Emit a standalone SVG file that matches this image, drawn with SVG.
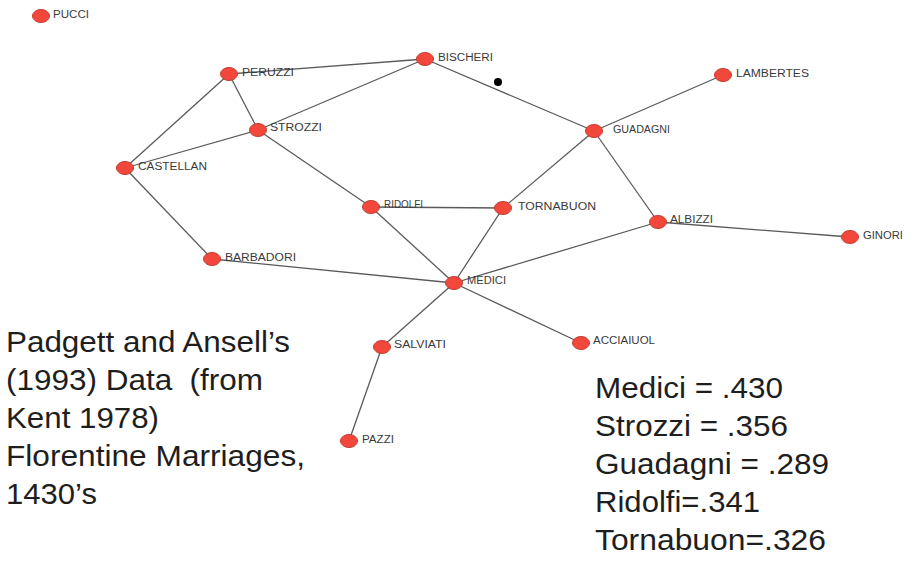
<svg xmlns="http://www.w3.org/2000/svg" width="916" height="563" viewBox="0 0 916 563">
<style>
.n ellipse{fill:#f2473b;stroke:#c23a2e;stroke-width:1}
.n text{font-family:"Liberation Sans",Arial,sans-serif;font-size:10px;fill:#3a3a3a}
.e line{stroke:#5a5a5a;stroke-width:1.3}
.big{font-family:"Liberation Sans",Arial,sans-serif;font-size:29px;fill:#1e1e1e}
</style>
<rect width="916" height="563" fill="#ffffff"/>
<g id="connectors" class="e">
<line x1="229" y1="74" x2="425" y2="59"/>
<line x1="229" y1="74" x2="258" y2="130"/>
<line x1="229" y1="74" x2="125" y2="168"/>
<line x1="425" y1="59" x2="258" y2="130"/>
<line x1="425" y1="59" x2="594" y2="131"/>
<line x1="258" y1="130" x2="125" y2="168"/>
<line x1="258" y1="130" x2="371" y2="207"/>
<line x1="125" y1="168" x2="212" y2="259"/>
<line x1="212" y1="259" x2="454" y2="283"/>
<line x1="371" y1="207" x2="503" y2="208"/>
<line x1="371" y1="207" x2="454" y2="283"/>
<line x1="503" y1="208" x2="594" y2="131"/>
<line x1="503" y1="208" x2="454" y2="283"/>
<line x1="594" y1="131" x2="723" y2="75"/>
<line x1="594" y1="131" x2="658" y2="222"/>
<line x1="658" y1="222" x2="850" y2="237"/>
<line x1="658" y1="222" x2="454" y2="283"/>
<line x1="454" y1="283" x2="382" y2="347"/>
<line x1="454" y1="283" x2="581" y2="343"/>
<line x1="382" y1="347" x2="349" y2="441"/>
</g>
<circle cx="498" cy="82" r="4" fill="#000"/>
<g id="pucci" class="n"><ellipse cx="41" cy="16" rx="8.5" ry="6.5"/><text x="53" y="18" textLength="36" lengthAdjust="spacingAndGlyphs">PUCCI</text></g>
<g id="peruzzi" class="n"><ellipse cx="229" cy="74" rx="8.5" ry="6.5"/><text x="242" y="76" textLength="52" lengthAdjust="spacingAndGlyphs">PERUZZI</text></g>
<g id="bischeri" class="n"><ellipse cx="425" cy="59" rx="8.5" ry="6.5"/><text x="438" y="61" textLength="55" lengthAdjust="spacingAndGlyphs">BISCHERI</text></g>
<g id="strozzi" class="n"><ellipse cx="258" cy="130" rx="8.5" ry="6.5"/><text x="270" y="131" textLength="52" lengthAdjust="spacingAndGlyphs">STROZZI</text></g>
<g id="castellan" class="n"><ellipse cx="125" cy="168" rx="8.5" ry="6.5"/><text x="138" y="170" textLength="69" lengthAdjust="spacingAndGlyphs">CASTELLAN</text></g>
<g id="guadagni" class="n"><ellipse cx="594" cy="131" rx="8.5" ry="6.5"/><text x="613" y="133" textLength="57" lengthAdjust="spacingAndGlyphs">GUADAGNI</text></g>
<g id="lambertes" class="n"><ellipse cx="723" cy="75" rx="8.5" ry="6.5"/><text x="736" y="77" textLength="73" lengthAdjust="spacingAndGlyphs">LAMBERTES</text></g>
<g id="ridolfi" class="n"><ellipse cx="371" cy="207" rx="8.5" ry="6.5"/><text x="384" y="208" textLength="39" lengthAdjust="spacingAndGlyphs">RIDOLFI</text></g>
<g id="tornabuon" class="n"><ellipse cx="503" cy="208" rx="8.5" ry="6.5"/><text x="518" y="210" textLength="78" lengthAdjust="spacingAndGlyphs">TORNABUON</text></g>
<g id="albizzi" class="n"><ellipse cx="658" cy="222" rx="8.5" ry="6.5"/><text x="670" y="223" textLength="43" lengthAdjust="spacingAndGlyphs">ALBIZZI</text></g>
<g id="ginori" class="n"><ellipse cx="850" cy="237" rx="8.5" ry="6.5"/><text x="863" y="239" textLength="40" lengthAdjust="spacingAndGlyphs">GINORI</text></g>
<g id="barbadori" class="n"><ellipse cx="212" cy="259" rx="8.5" ry="6.5"/><text x="225" y="261" textLength="71" lengthAdjust="spacingAndGlyphs">BARBADORI</text></g>
<g id="medici" class="n"><ellipse cx="454" cy="283" rx="8.5" ry="6.5"/><text x="467" y="284" textLength="39" lengthAdjust="spacingAndGlyphs">MEDICI</text></g>
<g id="salviati" class="n"><ellipse cx="382" cy="347" rx="8.5" ry="6.5"/><text x="394" y="348" textLength="52" lengthAdjust="spacingAndGlyphs">SALVIATI</text></g>
<g id="acciaiuol" class="n"><ellipse cx="581" cy="343" rx="8.5" ry="6.5"/><text x="593" y="344" textLength="62" lengthAdjust="spacingAndGlyphs">ACCIAIUOL</text></g>
<g id="pazzi" class="n"><ellipse cx="349" cy="441" rx="8.5" ry="6.5"/><text x="362" y="443" textLength="32" lengthAdjust="spacingAndGlyphs">PAZZI</text></g>
<g id="caption">
<text class="big" x="6" y="352" textLength="284" lengthAdjust="spacingAndGlyphs">Padgett and Ansell’s</text>
<text class="big" x="6" y="390" textLength="257" lengthAdjust="spacingAndGlyphs" xml:space="preserve">(1993) Data  (from</text>
<text class="big" x="6" y="428" textLength="153" lengthAdjust="spacingAndGlyphs">Kent 1978)</text>
<text class="big" x="6" y="466" textLength="299" lengthAdjust="spacingAndGlyphs">Florentine Marriages,</text>
<text class="big" x="6" y="504" textLength="91" lengthAdjust="spacingAndGlyphs">1430’s</text>
</g>
<g id="scores">
<text class="big" x="595" y="398" textLength="188" lengthAdjust="spacingAndGlyphs">Medici = .430</text>
<text class="big" x="595" y="436" textLength="193" lengthAdjust="spacingAndGlyphs">Strozzi = .356</text>
<text class="big" x="595" y="474" textLength="234" lengthAdjust="spacingAndGlyphs">Guadagni = .289</text>
<text class="big" x="595" y="512" textLength="165" lengthAdjust="spacingAndGlyphs">Ridolfi=.341</text>
<text class="big" x="595" y="550" textLength="231" lengthAdjust="spacingAndGlyphs">Tornabuon=.326</text>
</g>
</svg>
